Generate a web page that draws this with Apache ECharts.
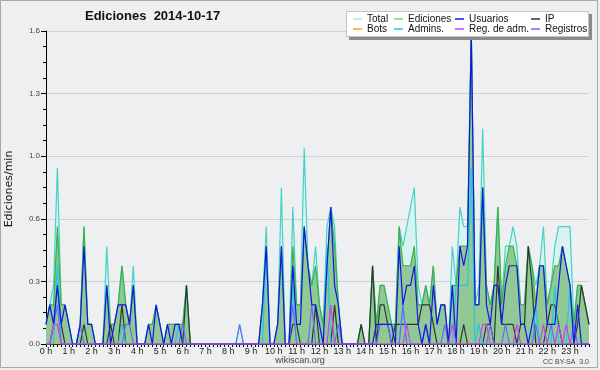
<!DOCTYPE html>
<html>
<head>
<meta charset="utf-8">
<script src="https://cdn.jsdelivr.net/npm/echarts@6/dist/echarts.min.js"></script>
<style>
  html, body { margin: 0; padding: 0; background: #eeeff1; }
  #chart { width: 600px; height: 370px; }
</style>
</head>
<body>
<div id="chart"></div>
<script>
// Hour tick labels
const hourLabels = ['0 h','1 h','2 h','3 h','4 h','5 h','6 h','7 h','8 h','9 h','10 h','11 h',
  '12 h','13 h','14 h','15 h','16 h','17 h','18 h','19 h','20 h','21 h','22 h','23 h'];
const minuteMarks = ['00','10','20','30','40','50'];
// 10-minute slots (categories)
const slots = [];
hourLabels.forEach(h => minuteMarks.forEach(m => slots.push(h.replace(' h', '') + ':' + m)));

// Series values (edits per minute), one row per hour, 6 ten-minute slots each
const total = [
  0.1,0.2,0.3,0.9,0.2,0.2,  0.1,0,0,0.1,0.6,0.1,  0.1,0,0,0,0.5,0.1,  0.1,0.2,0.4,0.2,0.1,0.4,
  0,0,0,0.1,0.1,0.2,  0.1,0,0.1,0.1,0.1,0.1,  0.1,0.3,0,0,0,0,  0,0,0,0,0,0,
  0,0,0,0.1,0,0,  0,0,0,0.2,0.6,0,  0,0.1,0.8,0,0,0.7,  0.2,0.2,1.0,0.4,0.3,0.5,
  0.2,0.1,0.6,0.7,0.6,0.2,  0,0,0,0,0,0.1,  0,0,0.4,0.1,0.3,0.3,  0.2,0.1,0.1,0.6,0.5,0.6,
  0.7,0.8,0.3,0.2,0.3,0.2,  0.4,0.1,0.2,0.2,0,0.5,  0.3,0.7,0.6,0.6,1.6,0.2,  0.3,1.1,0.3,0.2,0.3,0.7,
  0.2,0.5,0.5,0.6,0.5,0.2,  0.2,0.5,0.4,0.3,0.4,0.6,  0.2,0.3,0.5,0.6,0.6,0.6,  0.6,0.1,0.3,0.3,0.2,0.1
];
const ediciones = [
  0.1,0.2,0.2,0.6,0.2,0.2,  0.1,0,0,0.1,0.6,0.1,  0.1,0,0,0,0.3,0.1,  0.1,0.2,0.4,0.2,0.1,0.3,
  0,0,0,0.1,0.1,0.2,  0.1,0,0.1,0.1,0.1,0.1,  0.1,0.3,0,0,0,0,  0,0,0,0,0,0,
  0,0,0,0,0,0,  0,0,0,0.2,0.5,0,  0,0.1,0.5,0,0,0.5,  0.2,0.2,0.6,0.4,0.3,0.4,
  0.2,0.1,0.4,0.7,0.5,0.2,  0,0,0,0,0,0.1,  0,0,0.4,0.1,0.3,0.3,  0.2,0.1,0.1,0.6,0.4,0.4,
  0.4,0.5,0.2,0.2,0.3,0.2,  0.4,0.1,0.2,0.2,0,0.3,  0.3,0.5,0.5,0.5,1.6,0.2,  0.2,0.8,0.3,0.2,0.3,0.7,
  0.2,0.4,0.5,0.5,0.4,0.2,  0.2,0.5,0.4,0.2,0.4,0.4,  0.2,0.3,0.4,0.4,0.5,0.4,  0.3,0.1,0.3,0.3,0.2,0.1
];
const usuarios = [
  0.1,0.2,0.1,0.3,0.1,0.2,  0.1,0,0,0.1,0.5,0.1,  0.1,0,0,0,0.3,0,  0.1,0.2,0.2,0.2,0.1,0.3,
  0,0,0,0.1,0,0.2,  0.1,0,0.1,0,0.1,0.1,  0,0,0,0,0,0,  0,0,0,0,0,0,
  0,0,0,0,0,0,  0,0,0,0.2,0.5,0,  0,0.1,0.5,0,0,0.4,  0.1,0.1,0.6,0.4,0.2,0.2,
  0.1,0,0.4,0.7,0.3,0.2,  0,0,0,0,0,0,  0,0,0,0.1,0.1,0.1,  0.1,0.1,0,0.5,0.2,0.3,
  0.3,0.4,0.1,0,0.1,0,  0.3,0.1,0.2,0.2,0,0.3,  0,0.5,0.4,0.5,1.6,0.2,  0.2,0.8,0.2,0.1,0.3,0.3,
  0.1,0.3,0.4,0.4,0.4,0.1,  0.1,0,0.1,0.2,0.4,0.4,  0.1,0.1,0.1,0.3,0.5,0.4,  0.3,0,0.2,0,0,0
];
const ip = [
  0,0,0.1,0.3,0.1,0,  0,0,0,0,0.1,0,  0,0,0,0,0,0.1,  0,0,0.2,0,0,0,
  0,0,0,0,0,0,  0,0,0,0,0,0,  0,0.3,0,0,0,0,  0,0,0,0,0,0,
  0,0,0,0,0,0,  0,0,0,0,0,0,  0,0,0,0,0,0.1,  0.1,0,0,0,0,0.2,
  0,0,0,0,0.2,0,  0,0,0,0,0,0.1,  0,0,0.4,0,0.2,0.2,  0.1,0,0.1,0.1,0.1,0.1,
  0.1,0.1,0.1,0.2,0.2,0.2,  0.1,0,0,0,0,0,  0,0,0.1,0,0,0,  0,0,0.1,0.1,0,0.4,
  0.1,0.1,0.1,0.1,0,0.1,  0.1,0.5,0.3,0,0,0,  0.1,0.2,0.2,0.1,0,0,  0,0,0.1,0.3,0.2,0.1
];
const bots = [
  0,0,0,0,0,0,  0,0,0,0,0,0,  0,0,0,0,0,0,  0,0,0,0,0,0,
  0,0,0,0,0,0,  0,0,0,0,0,0,  0,0,0,0,0,0,  0,0,0,0,0,0,
  0,0,0,0,0,0,  0,0,0,0,0,0,  0,0,0,0,0,0,  0,0,0,0,0,0,
  0,0,0,0,0,0,  0,0,0,0,0,0,  0,0,0,0,0,0,  0,0,0,0,0,0,
  0,0,0,0,0,0,  0,0,0,0,0,0,  0,0,0,0,0,0,  0,0,0,0,0,0,
  0,0,0,0,0,0,  0,0,0,0,0,0,  0,0,0,0,0,0,  0,0,0,0,0,0
];
const admins = [
  0,0,0,0.4,0,0,  0,0,0,0,0,0,  0,0,0,0,0,0,  0,0,0.1,0,0,0,
  0,0,0,0,0,0,  0,0,0,0,0,0.1,  0,0,0,0,0,0,  0,0,0,0,0,0,
  0,0,0,0,0,0,  0,0,0,0,0.5,0,  0,0,0,0,0,0.3,  0,0,0,0,0,0,
  0,0,0.5,0,0,0,  0,0,0,0,0,0,  0,0,0,0,0,0,  0,0,0,0,0.2,0,
  0,0,0,0,0.1,0,  0,0,0,0,0,0,  0.3,0.3,0.3,0.3,0.9,0,  0.1,0,0,0,0,0,
  0,0,0,0,0,0,  0,0,0,0.2,0,0,  0,0,0.3,0,0,0,  0.3,0,0,0,0,0
];
const regAdm = [
  0,0,0.1,0.1,0,0,  0,0,0,0,0,0,  0,0,0,0,0,0,  0,0,0,0,0,0,
  0,0,0,0,0,0,  0,0,0,0,0,0,  0,0,0,0,0,0,  0,0,0,0,0,0,
  0,0,0,0,0,0,  0,0,0,0,0,0,  0,0,0,0,0,0,  0,0,0,0,0,0,
  0,0,0,0.2,0,0,  0,0,0,0,0,0,  0,0,0,0,0,0,  0,0,0,0,0,0.1,
  0,0,0,0,0,0,  0,0,0,0,0,0.1,  0,0,0,0,0,0,  0,0.1,0.1,0,0,0,
  0,0,0,0,0.1,0,  0,0,0,0,0,0.1,  0,0,0,0.1,0,0.1,  0,0,0,0,0,0
];
const registros = [
  0,0,0.1,0.2,0,0,  0,0,0,0.1,0,0,  0,0,0,0,0,0,  0,0,0,0.1,0.1,0,
  0,0,0,0,0,0,  0,0,0,0,0,0,  0.1,0,0,0,0,0,  0,0,0,0,0,0,
  0,0,0,0.1,0,0,  0,0,0,0,0,0,  0,0,0,0,0,0.2,  0,0,0,0,0.2,0,
  0,0,0,0,0,0.1,  0,0,0,0,0,0,  0,0,0,0,0.1,0.1,  0.1,0,0,0,0.2,0,
  0,0,0,0,0.1,0,  0,0,0,0.1,0,0,  0,0,0,0,0,0,  0,0,0,0.1,0,0,
  0,0.1,0,0,0,0,  0,0,0,0.1,0,0,  0,0.1,0,0,0,0,  0,0.1,0,0,0,0
];

const FONT = 'Liberation Sans';
const colors = {
  total: '#44d2c8', totalFill: '#d8f3ef', totalLegend: '#a6e8e4',
  ed: '#3cb049', edFill: '#90c995', edLegend: '#7fd07f',
  usu: '#1414e6', ip: '#2e372f', bots: '#ffa31f',
  admins: '#25c6e4', regAdm: '#d23ee8', registros: '#6a6aff'
};

function lineSeries(name, data, color, extra) {
  return Object.assign({
    name, type: 'line', data, showSymbol: false, symbol: 'none',
    lineStyle: { color, width: 1.2 }, itemStyle: { color },
    emphasis: { disabled: true }, animation: false
  }, extra || {});
}

function legendCol(left, items) {
  return {
    orient: 'vertical', left, top: 14, padding: 0, itemGap: 0,
    itemWidth: 9, itemHeight: 1.5, icon: 'rect', z: 60, selectedMode: false,
    textStyle: { fontFamily: FONT, fontSize: 10, lineHeight: 10, color: '#111' },
    data: items
  };
}

const chart = echarts.init(document.getElementById('chart'), null, { renderer: 'canvas' });
chart.setOption({
  backgroundColor: '#eeeff1',
  animation: false,
  title: {
    text: 'Ediciones  2014-10-17', left: 85, top: 10, padding: 0,
    textStyle: { fontFamily: FONT, fontSize: 13, fontWeight: 'bold', color: '#111', lineHeight: 13 }
  },
  legend: [
    legendCol(353, [{ name: 'Total', itemStyle: { color: colors.totalLegend } }, { name: 'Bots' }]),
    legendCol(394, [{ name: 'Ediciones', itemStyle: { color: colors.edLegend } }, { name: 'Admins.' }]),
    legendCol(455, [{ name: 'Usuarios' }, { name: 'Reg. de adm.' }]),
    legendCol(531, [{ name: 'IP' }, { name: 'Registros' }])
  ],
  grid: { left: 46, right: 11, top: 31, bottom: 26, containLabel: false },
  xAxis: {
    type: 'category', data: slots, boundaryGap: false,
    axisLine: { lineStyle: { color: '#000', width: 1 } },
    axisTick: { show: true, interval: 0, length: 3, lineStyle: { color: '#000' } },
    axisLabel: {
      interval: 0, margin: 3, fontFamily: FONT, fontSize: 9, color: '#222',
      formatter: (v, i) => (i % 6 === 0 ? hourLabels[i / 6] : '')
    },
    splitLine: { show: false }
  },
  yAxis: {
    type: 'value', min: 0, max: 1.6, interval: 0.32,
    axisLine: { show: true, lineStyle: { color: '#000', width: 1 } },
    axisTick: { show: true, length: 5, lineStyle: { color: '#000' } },
    minorTick: { show: true, splitNumber: 4, length: 3, lineStyle: { color: '#000' } },
    axisLabel: { margin: 6, fontFamily: FONT, fontSize: 8, color: '#444', formatter: v => v.toFixed(1) },
    splitLine: { show: true, lineStyle: { color: '#cfd0d2', width: 1 } }
  },
  series: [
    lineSeries('Total', total, colors.total, { areaStyle: { color: colors.totalFill, opacity: 1 } }),
    lineSeries('Ediciones', ediciones, colors.ed, { areaStyle: { color: colors.edFill, opacity: 1 } }),
    lineSeries('IP', ip, colors.ip),
    lineSeries('Bots', bots, colors.bots),
    lineSeries('Admins.', admins, colors.admins),
    lineSeries('Registros', registros, colors.registros),
    lineSeries('Usuarios', usuarios, colors.usu),
    lineSeries('Reg. de adm.', regAdm, colors.regAdm)
  ],
  graphic: [
    { type: 'rect', z: 40, silent: true, shape: { x: 0.5, y: 0.5, width: 597, height: 367 },
      style: { fill: null, stroke: '#a8a8a8', lineWidth: 1 } },
    { type: 'rect', z: 50, silent: true, shape: { x: 349, y: 14, width: 243, height: 26 },
      style: { fill: '#8c8c8c' } },
    { type: 'rect', z: 51, silent: true, shape: { x: 346.5, y: 11.5, width: 242, height: 25 },
      style: { fill: '#ffffff', stroke: '#c4c4c4', lineWidth: 1 } },
    { type: 'text', z: 52, silent: true, x: 9, y: 189, rotation: Math.PI / 2,
      style: { text: 'Ediciones/min', font: '11px "DejaVu Sans"', fill: '#111', align: 'center', verticalAlign: 'middle' } },
    { type: 'text', z: 52, silent: true, x: 300, y: 361,
      style: { text: 'wikiscan.org', font: '9px "Liberation Sans"', fill: '#444', align: 'center', verticalAlign: 'middle' } },
    { type: 'text', z: 52, silent: true, x: 589, y: 362.5,
      style: { text: 'CC BY-SA  3.0', font: '7px "Liberation Sans"', fill: '#444', align: 'right', verticalAlign: 'middle' } }
  ]
});
</script>
</body>
</html>
